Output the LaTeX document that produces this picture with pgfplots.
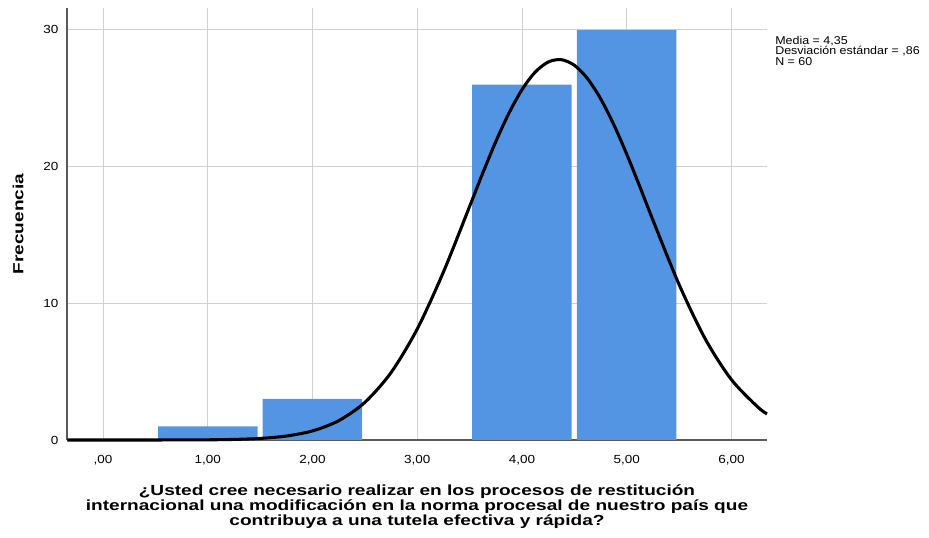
\documentclass[border=0pt]{standalone}
\usepackage{fontspec}
\setmainfont{Liberation Sans}
\newfontfamily\widetick[FakeStretch=1.15]{Liberation Sans}
\newfontfamily\widelab[FakeStretch=1.3]{Liberation Sans}
\newfontfamily\widenote[FakeStretch=1.1]{Liberation Sans}
\usepackage{pgfplots}
\pgfplotsset{compat=1.18}
\definecolor{spssBar}{RGB}{84,149,227}
\definecolor{gridGray}{RGB}{208,208,208}
\definecolor{axisGray}{RGB}{90,90,90}

\begin{document}
\begin{tikzpicture}[x=0.75pt,y=0.75pt]
  \begin{axis}[
    name=ax,
    anchor=south west,
    scale only axis,
    width=525pt, height=324pt,
    xmin=-0.344, xmax=6.34,
    ymin=0, ymax=31.6,
    axis x line*=bottom,
    axis y line*=left,
    axis line style={axisGray, line width=0.9pt, -},
    grid=major,
    major grid style={gridGray, line width=0.6pt},
    major tick length=0pt,
    xtick={0,1,2,3,4,5,6},
    xticklabels={{,00},{1,00},{2,00},{3,00},{4,00},{5,00},{6,00}},
    ytick={0,10,20,30},
    yticklabels={0,10,20,30},
    tick label style={font=\widetick\fontsize{8.8}{10}\selectfont},
    xticklabel style={yshift=-8pt},
    yticklabel style={xshift=-3pt},
    xlabel={¿Usted cree necesario realizar en los procesos de restitución\\internacional una modificación en la norma procesal de nuestro país que\\contribuya a una tutela efectiva y rápida?},
    xlabel style={align=center, font=\widelab\fontsize{11}{9.8}\selectfont\bfseries, yshift=-8pt},
    ylabel={Frecuencia},
    ylabel style={font=\widelab\fontsize{11}{12}\selectfont\bfseries, yshift=8pt},
    clip=false
  ]
    \addplot[ybar, bar width=0.95, bar shift=0pt, fill=spssBar, draw=none]
      coordinates {(1,1) (2,3) (4,26) (5,30)};
    \addplot[black, line width=2.3pt, smooth]
      coordinates {
        (-0.34,0) (0,0) (0.5,0.0012) (1.0,0.0141) (1.25,0.0419) (1.5,0.1147)
        (1.75,0.2884) (2.0,0.6655) (2.25,1.4115) (2.5,2.752) (2.75,4.931)
        (3.0,8.118) (3.25,12.283) (3.5,17.078) (3.625,19.510) (3.75,21.821)
        (3.875,23.896) (4.0,25.621) (4.125,26.897) (4.25,27.645) (4.375,27.821)
        (4.5,27.413) (4.625,26.446) (4.75,24.979) (4.875,23.101) (5.0,20.918)
        (5.125,18.544) (5.25,16.098) (5.5,11.383) (5.75,7.398) (6.0,4.418)
        (6.25,2.425) (6.34,1.914)
      };
    \node[anchor=north west, align=left, inner sep=0pt,
          font=\widenote\fontsize{8.5}{7.9}\selectfont]
      at (rel axis cs:1,0.945) [xshift=6pt, yshift=-3pt]
      {Media = 4,35\\Desviación estándar = ,86\\N = 60};
  \end{axis}
  \pgfresetboundingbox
  \path[use as bounding box] ([shift={(-67,-98)}]ax.south west) rectangle ([shift={(162,8)}]ax.north east);
\end{tikzpicture}
\end{document}
